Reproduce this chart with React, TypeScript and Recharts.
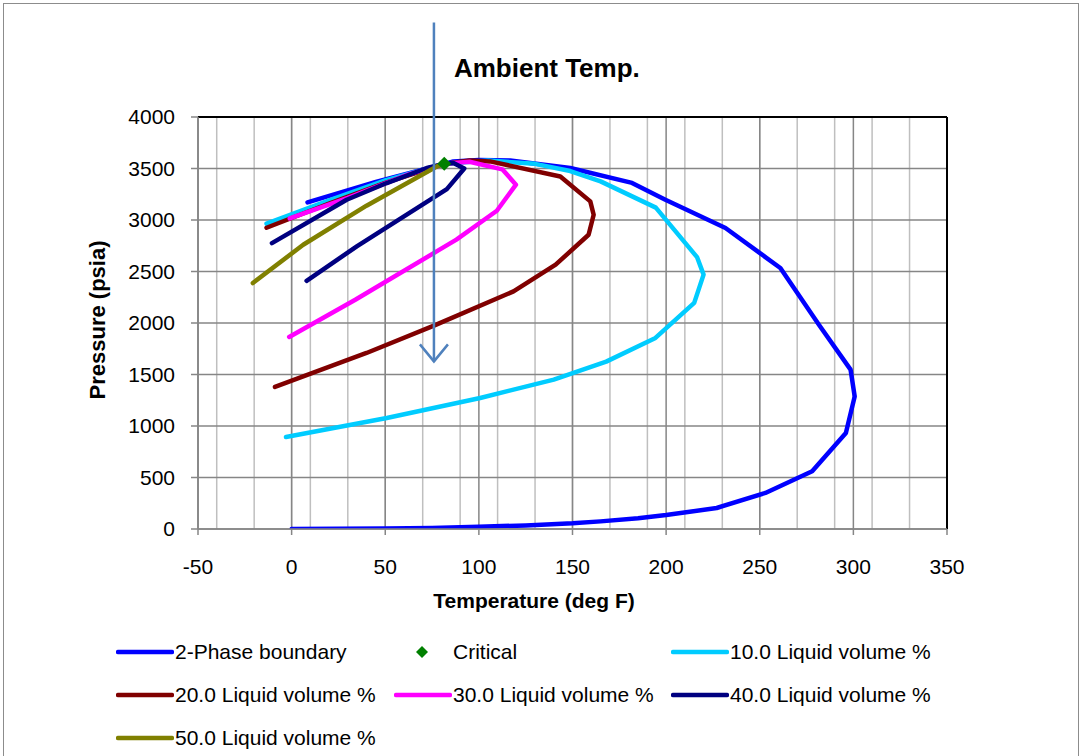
import React from "react";
import {
  ComposedChart,
  Line,
  Scatter,
  XAxis,
  YAxis,
  CartesianGrid,
  ReferenceLine,
  Legend,
} from "recharts";

// ---------- axis ticks ----------
const X_MAJOR_TICKS = [-50, 0, 50, 100, 150, 200, 250, 300, 350];
const X_MINOR_TICKS = [
  -50, -40, -30, -20, -10, 0, 10, 20, 30, 40, 50, 60, 70, 80, 90, 100, 110, 120,
  130, 140, 150, 160, 170, 180, 190, 200, 210, 220, 230, 240, 250, 260, 270, 280,
  290, 300, 310, 320, 330, 340, 350,
];
const Y_TICKS = [0, 500, 1000, 1500, 2000, 2500, 3000, 3500, 4000];
const X_MAX = 350;
const Y_MAX = 4000;

// ---------- series (Temperature deg F, Pressure psia) ----------
const BOUNDARY_T = [0, 25, 50, 75, 100, 125, 150, 165, 185, 200, 227, 253, 278, 296, 300.7, 298.5, 281.6, 261, 231.7, 199.6, 181.8, 148.8, 116.7, 100, 86.4, 81.5, 45, 8.5];
const BOUNDARY_P = [0, 2, 5, 10, 22, 35, 55, 74, 105, 135, 204, 350, 560, 932, 1287, 1547, 1983, 2534, 2922, 3197, 3360, 3505, 3578, 3582, 3569, 3545, 3370, 3171];

const CRITICAL_T = [81.5];
const CRITICAL_P = [3545];

const LV10_T = [-13.4, 20, 50, 81.5, 105, 130, 148.8, 165, 194.5, 216.5, 220, 215, 194.3, 168, 140, 100.7, 50.8, -3];
const LV10_P = [2965, 3190, 3385, 3545, 3578, 3545, 3475, 3375, 3120, 2640, 2470, 2195, 1855, 1625, 1450, 1272, 1078, 893];

const LV20_T = [-13.4, 20, 50, 81.5, 95, 106, 143.5, 159.5, 161.3, 158.6, 141, 118.5, 76, 40, -8.9];
const LV20_P = [2925, 3160, 3360, 3545, 3578, 3569, 3423, 3181, 3051, 2857, 2566, 2307, 1974, 1709, 1379];

const LV30_T = [-1, 30, 62, 81.5, 95, 112.5, 119.8, 109.6, 88, 79, 34, -1.3];
const LV30_P = [3015, 3215, 3440, 3545, 3566, 3492, 3343, 3090, 2809, 2712, 2226, 1864];

const LV40_T = [-10.5, 29.4, 50.8, 72.2, 81.5, 86.4, 92.2, 82.9, 34.8, 8];
const LV40_P = [2775, 3197, 3359, 3505, 3545, 3553, 3500, 3300, 2744, 2410];

const LV50_T = [-20.7, 6.2, 40, 77.5, 81.5];
const LV50_P = [2388, 2760, 3139, 3520, 3545];

// annotation: ambient temperature arrow (deg F, psia)
const ARROW_T = [76, 76];
const ARROW_P = [4918, 1627];
const ARROW_LABEL = "Ambient Temp.";

const SERIES_NAMES = [
  "2-Phase boundary",
  "Critical",
  "10.0 Liquid volume %",
  "20.0 Liquid volume %",
  "30.0 Liquid volume %",
  "40.0 Liquid volume %",
  "50.0 Liquid volume %",
];
const SERIES_COLORS = ["#0000FF", "#008000", "#00CCFF", "#800000", "#FF00FF", "#000080", "#808000"];

const zip = (t: number[], p: number[]) => t.map((x, i) => ({ x, y: p[i] }));

const LINE_SERIES = [
  { name: SERIES_NAMES[0], color: SERIES_COLORS[0], data: zip(BOUNDARY_T, BOUNDARY_P) },
  { name: SERIES_NAMES[2], color: SERIES_COLORS[2], data: zip(LV10_T, LV10_P) },
  { name: SERIES_NAMES[3], color: SERIES_COLORS[3], data: zip(LV20_T, LV20_P) },
  { name: SERIES_NAMES[4], color: SERIES_COLORS[4], data: zip(LV30_T, LV30_P) },
  { name: SERIES_NAMES[5], color: SERIES_COLORS[5], data: zip(LV40_T, LV40_P) },
  { name: SERIES_NAMES[6], color: SERIES_COLORS[6], data: zip(LV50_T, LV50_P) },
];
const CRITICAL_DATA = zip(CRITICAL_T, CRITICAL_P);
const ARROW_SEGMENT = zip(ARROW_T, ARROW_P);

const FONT = "'Liberation Sans', Arial, Helvetica, sans-serif";

// legend layout (row, left of symbol area)
const LEGEND_COLS = [116, 394, 671];
const LEGEND_LAYOUT = [
  { row: 0, col: 0 },
  { row: 0, col: 1 },
  { row: 0, col: 2 },
  { row: 1, col: 0 },
  { row: 1, col: 1 },
  { row: 1, col: 2 },
  { row: 2, col: 0 },
];

const Diamond = (props: any) => {
  const { cx, cy, fill } = props;
  if (cx == null || cy == null) return null;
  const r = 7;
  return (
    <polygon
      points={`${cx},${cy - r} ${cx + r},${cy} ${cx},${cy + r} ${cx - r},${cy}`}
      fill={fill}
    />
  );
};

const ArrowShape = (props: any) => {
  const { x1, y1, x2, y2 } = props;
  const c = "#4F81BD";
  return (
    <g>
      <line x1={x1} y1={y1} x2={x2} y2={y2} stroke={c} strokeWidth={2.5} />
      <polyline
        points={`${x2 - 14},${y2 - 17} ${x2},${y2} ${x2 + 14},${y2 - 17}`}
        fill="none"
        stroke={c}
        strokeWidth={2.5}
      />
      <text
        x={x1 + 20}
        y={y1 + 55}
        fontFamily={FONT}
        fontWeight="bold"
        fontSize={26}
        fill="#000"
      >
        {ARROW_LABEL}
      </text>
    </g>
  );
};

const LegendContent = () => (
  <div style={{ position: "relative", width: 1083, height: 126, fontFamily: FONT }}>
    {SERIES_NAMES.map((name, i) => {
      const lay = LEGEND_LAYOUT[i];
      const top = 26 + lay.row * 43;
      const isMarker = i === 1;
      return (
        <div
          key={name}
          style={{
            position: "absolute",
            left: LEGEND_COLS[lay.col],
            top: top - 14,
            height: 28,
            display: "flex",
            alignItems: "center",
            whiteSpace: "nowrap",
          }}
        >
          <svg width={58} height={28} style={{ display: "block" }}>
            {isMarker ? (
              <polygon points="28,8 34,14 28,20 22,14" fill={SERIES_COLORS[i]} />
            ) : (
              <line x1={2} y1={14} x2={56} y2={14} stroke={SERIES_COLORS[i]} strokeWidth={4.5} strokeLinecap="round" />
            )}
          </svg>
          <span style={{ fontSize: 21, color: "#000", marginLeft: 1 }}>{name}</span>
        </div>
      );
    })}
  </div>
);

const YTitle = () => (
  <text
    x={97}
    y={320}
    transform="rotate(-90, 97, 320)"
    textAnchor="middle"
    dominantBaseline="central"
    fontFamily={FONT}
    fontWeight="bold"
    fontSize={22}
    fill="#000"
  >
    Pressure (psia)
  </text>
);

const XTitle = () => (
  <text x={534} y={608} textAnchor="middle" fontFamily={FONT} fontWeight="bold" fontSize={21} fill="#000">
    Temperature (deg F)
  </text>
);

export default function App() {
  return (
    <div style={{ position: "absolute", left: 0, top: 0, width: 1083, height: 756, background: "#fff", overflow: "hidden" }}>
      <div
        style={{
          position: "absolute",
          left: 3,
          top: 3,
          width: 1076,
          height: 800,
          border: "1.5px solid #8c8c8c",
          boxSizing: "border-box",
        }}
      />
      <div style={{ position: "absolute", left: 0, top: 0 }}>
        <ComposedChart
          width={1083}
          height={756}
          margin={{ top: 117, right: 136, bottom: 41, left: 0 }}
          style={{ fontFamily: FONT }}
        >
          <CartesianGrid xAxisId="minor" yAxisId={0} horizontal={false} stroke="#bfbfbf" strokeWidth={1.5} />
          <CartesianGrid xAxisId={0} yAxisId={0} stroke="#868686" strokeWidth={1.5} />
          <XAxis xAxisId="minor" type="number" dataKey="x" domain={[-50, X_MAX]} ticks={X_MINOR_TICKS} allowDataOverflow hide />
          <XAxis
            xAxisId={0}
            type="number"
            dataKey="x"
            domain={[-50, X_MAX]}
            ticks={X_MAJOR_TICKS}
            allowDataOverflow
            height={60}
            tickSize={6}
            tickMargin={24}
            interval={0}
            axisLine={{ stroke: "#868686", strokeWidth: 1.5 }}
            tickLine={{ stroke: "#868686", strokeWidth: 1.5 }}
            tick={{ fill: "#000", fontSize: 21, fontFamily: FONT }}
            label={<XTitle />}
          />
          <YAxis
            yAxisId={0}
            type="number"
            domain={[0, Y_MAX]}
            ticks={Y_TICKS}
            allowDataOverflow
            width={198}
            tickSize={7}
            tickMargin={16}
            interval={0}
            axisLine={{ stroke: "#868686", strokeWidth: 1.5 }}
            tickLine={{ stroke: "#868686", strokeWidth: 1.5 }}
            tick={{ fill: "#000", fontSize: 21, fontFamily: FONT }}
            label={<YTitle />}
          />
          {/* plot-area frame (top and right edges) */}
          <ReferenceLine xAxisId={0} yAxisId={0} y={Y_MAX} stroke="#000" strokeWidth={2} />
          <ReferenceLine xAxisId={0} yAxisId={0} x={X_MAX} stroke="#000" strokeWidth={2} />
          {LINE_SERIES.map((s) => (
            <Line
              key={s.name}
              name={s.name}
              data={s.data}
              dataKey="y"
              xAxisId={0}
              yAxisId={0}
              type="linear"
              stroke={s.color}
              strokeWidth={4.5}
              strokeLinecap="round"
              strokeLinejoin="round"
              dot={false}
              activeDot={false}
              isAnimationActive={false}
            />
          ))}
          <Scatter
            name={SERIES_NAMES[1]}
            data={CRITICAL_DATA}
            dataKey="y"
            xAxisId={0}
            yAxisId={0}
            fill={SERIES_COLORS[1]}
            shape={<Diamond />}
            isAnimationActive={false}
          />
          <ReferenceLine
            xAxisId={0}
            yAxisId={0}
            segment={ARROW_SEGMENT}
            ifOverflow="visible"
            shape={<ArrowShape />}
          />
          <Legend
            verticalAlign="bottom"
            content={<LegendContent />}
            wrapperStyle={{ position: "absolute", left: 0, top: 626, width: 1083, height: 126, bottom: "auto" }}
          />
        </ComposedChart>
      </div>
    </div>
  );
}
